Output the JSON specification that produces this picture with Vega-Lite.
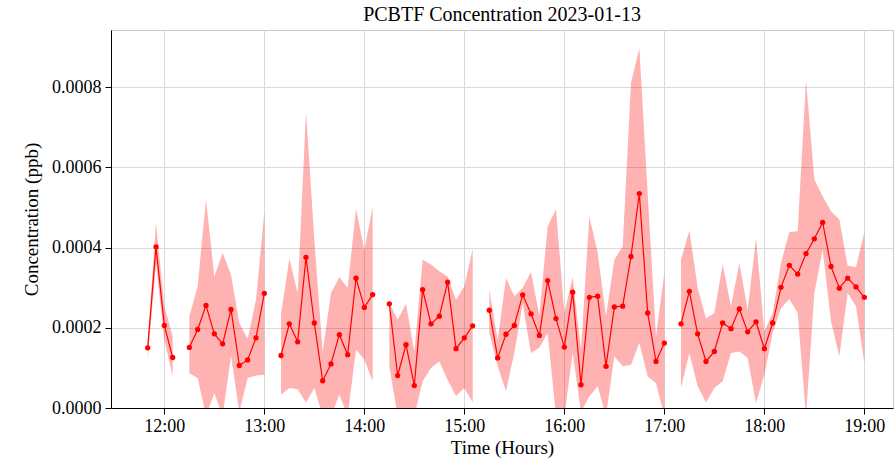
{
  "$schema": "https://vega.github.io/schema/vega-lite/v6.json",
  "width": 782,
  "height": 378,
  "autosize": {"type": "none"},
  "padding": {"left": 111, "top": 30, "right": 2, "bottom": 52},
  "background": "white",
  "title": {"text": "PCBTF Concentration 2023-01-13", "font": "Liberation Serif", "fontSize": 20, "fontWeight": "normal", "color": "black", "offset": 5, "anchor": "middle"},
  "config": {
    "view": {"stroke": "#c8c8c8", "strokeWidth": 1},
    "axis": {
      "labelFont": "Liberation Serif", "labelFontSize": 18, "labelColor": "black",
      "titleFont": "Liberation Serif", "titleFontSize": 19, "titleFontWeight": "normal", "titleColor": "black",
      "domainColor": "black", "tickColor": "black", "tickSize": 6, "gridColor": "#d9d9d9", "gridWidth": 1
    }
  },
  "data": {"values": [
    {"t": "2023-01-13T11:50:00", "c": 0.000150, "lo": 0.00012, "hi": 0.00016},
    {"t": "2023-01-13T11:55:00", "c": 0.000402, "lo": 0.00036, "hi": 0.000463},
    {"t": "2023-01-13T12:00:00", "c": 0.000206, "lo": 0.00017, "hi": 0.000254},
    {"t": "2023-01-13T12:05:00", "c": 0.000126, "lo": 0.000079, "hi": 0.000179},
    {"t": "2023-01-13T12:10:00", "c": null, "lo": null, "hi": null},
    {"t": "2023-01-13T12:15:00", "c": 0.000151, "lo": 0.000087, "hi": 0.000229},
    {"t": "2023-01-13T12:20:00", "c": 0.000196, "lo": 0.000075, "hi": 0.000304},
    {"t": "2023-01-13T12:25:00", "c": 0.000256, "lo": -0.00002, "hi": 0.00052},
    {"t": "2023-01-13T12:30:00", "c": 0.000185, "lo": 0.000037, "hi": 0.000328},
    {"t": "2023-01-13T12:35:00", "c": 0.00016, "lo": -0.00002, "hi": 0.000387},
    {"t": "2023-01-13T12:40:00", "c": 0.000246, "lo": 0.00013, "hi": 0.000333},
    {"t": "2023-01-13T12:45:00", "c": 0.000106, "lo": -0.00001, "hi": 0.000212},
    {"t": "2023-01-13T12:50:00", "c": 0.00012, "lo": 0.000075, "hi": 0.000172},
    {"t": "2023-01-13T12:55:00", "c": 0.000175, "lo": 0.000081, "hi": 0.00027},
    {"t": "2023-01-13T13:00:00", "c": 0.000286, "lo": 0.000083, "hi": 0.000489},
    {"t": "2023-01-13T13:05:00", "c": null, "lo": null, "hi": null},
    {"t": "2023-01-13T13:10:00", "c": 0.000131, "lo": 0.000033, "hi": 0.000233},
    {"t": "2023-01-13T13:15:00", "c": 0.00021, "lo": 0.00005, "hi": 0.000373},
    {"t": "2023-01-13T13:20:00", "c": 0.000165, "lo": 0.000047, "hi": 0.000287},
    {"t": "2023-01-13T13:25:00", "c": 0.000376, "lo": 0.000014, "hi": 0.00074},
    {"t": "2023-01-13T13:30:00", "c": 0.000212, "lo": 0.00005, "hi": 0.00042},
    {"t": "2023-01-13T13:35:00", "c": 0.000068, "lo": -0.00002, "hi": 0.00014},
    {"t": "2023-01-13T13:40:00", "c": 0.00011, "lo": -0.00002, "hi": 0.000287},
    {"t": "2023-01-13T13:45:00", "c": 0.000183, "lo": 0.000033, "hi": 0.000326},
    {"t": "2023-01-13T13:50:00", "c": 0.000133, "lo": -0.00002, "hi": 0.0003},
    {"t": "2023-01-13T13:55:00", "c": 0.000324, "lo": 0.000146, "hi": 0.000497},
    {"t": "2023-01-13T14:00:00", "c": 0.000251, "lo": 0.000121, "hi": 0.000395},
    {"t": "2023-01-13T14:05:00", "c": 0.000283, "lo": 0.000067, "hi": 0.000501},
    {"t": "2023-01-13T14:10:00", "c": null, "lo": null, "hi": null},
    {"t": "2023-01-13T14:15:00", "c": 0.00026, "lo": 0.000104, "hi": 0.000262},
    {"t": "2023-01-13T14:20:00", "c": 0.000081, "lo": -0.00002, "hi": 0.00022},
    {"t": "2023-01-13T14:25:00", "c": 0.000158, "lo": -0.00001, "hi": 0.00026},
    {"t": "2023-01-13T14:30:00", "c": 0.000056, "lo": -0.00002, "hi": 0.00014},
    {"t": "2023-01-13T14:35:00", "c": 0.000295, "lo": 0.000067, "hi": 0.00037},
    {"t": "2023-01-13T14:40:00", "c": 0.00021, "lo": 0.0001, "hi": 0.000358},
    {"t": "2023-01-13T14:45:00", "c": 0.000229, "lo": 0.000116, "hi": 0.000341},
    {"t": "2023-01-13T14:50:00", "c": 0.000314, "lo": 0.00007, "hi": 0.000328},
    {"t": "2023-01-13T14:55:00", "c": 0.000148, "lo": 0.00003, "hi": 0.00027},
    {"t": "2023-01-13T15:00:00", "c": 0.000175, "lo": 0.00005, "hi": 0.000304},
    {"t": "2023-01-13T15:05:00", "c": 0.000205, "lo": 0.000014, "hi": 0.000397},
    {"t": "2023-01-13T15:10:00", "c": null, "lo": null, "hi": null},
    {"t": "2023-01-13T15:15:00", "c": 0.000244, "lo": 0.000187, "hi": 0.000295},
    {"t": "2023-01-13T15:20:00", "c": 0.000125, "lo": 0.000104, "hi": 0.00017},
    {"t": "2023-01-13T15:25:00", "c": 0.000184, "lo": 0.000042, "hi": 0.000324},
    {"t": "2023-01-13T15:30:00", "c": 0.000206, "lo": 0.000137, "hi": 0.000279},
    {"t": "2023-01-13T15:35:00", "c": 0.000282, "lo": 0.00026, "hi": 0.0003},
    {"t": "2023-01-13T15:40:00", "c": 0.000235, "lo": 0.000137, "hi": 0.000339},
    {"t": "2023-01-13T15:45:00", "c": 0.000181, "lo": 0.00015, "hi": 0.00023},
    {"t": "2023-01-13T15:50:00", "c": 0.000318, "lo": 0.000187, "hi": 0.000453},
    {"t": "2023-01-13T15:55:00", "c": 0.000223, "lo": -0.00002, "hi": 0.000496},
    {"t": "2023-01-13T16:00:00", "c": 0.000152, "lo": -0.00002, "hi": 0.000237},
    {"t": "2023-01-13T16:05:00", "c": 0.000289, "lo": 0.000137, "hi": 0.000327},
    {"t": "2023-01-13T16:10:00", "c": 0.000058, "lo": -0.00001, "hi": 0.000146},
    {"t": "2023-01-13T16:15:00", "c": 0.000276, "lo": 0.000029, "hi": 0.000478},
    {"t": "2023-01-13T16:20:00", "c": 0.000279, "lo": 0.000054, "hi": 0.000387},
    {"t": "2023-01-13T16:25:00", "c": 0.000104, "lo": -0.00002, "hi": 0.000229},
    {"t": "2023-01-13T16:30:00", "c": 0.000252, "lo": 0.000129, "hi": 0.00037},
    {"t": "2023-01-13T16:35:00", "c": 0.000254, "lo": 0.000104, "hi": 0.000403},
    {"t": "2023-01-13T16:40:00", "c": 0.000378, "lo": 0.000108, "hi": 0.000811},
    {"t": "2023-01-13T16:45:00", "c": 0.000535, "lo": 0.000162, "hi": 0.000898},
    {"t": "2023-01-13T16:50:00", "c": 0.000237, "lo": 0.000079, "hi": 0.000536},
    {"t": "2023-01-13T16:55:00", "c": 0.000116, "lo": 0.000062, "hi": 0.000179},
    {"t": "2023-01-13T17:00:00", "c": 0.000162, "lo": -0.00002, "hi": 0.000337},
    {"t": "2023-01-13T17:05:00", "c": null, "lo": null, "hi": null},
    {"t": "2023-01-13T17:10:00", "c": 0.00021, "lo": 0.00005, "hi": 0.00037},
    {"t": "2023-01-13T17:15:00", "c": 0.000291, "lo": 0.000137, "hi": 0.000443},
    {"t": "2023-01-13T17:20:00", "c": 0.000185, "lo": 0.000054, "hi": 0.0003},
    {"t": "2023-01-13T17:25:00", "c": 0.000116, "lo": 0.000014, "hi": 0.000223},
    {"t": "2023-01-13T17:30:00", "c": 0.000141, "lo": 0.00005, "hi": 0.000237},
    {"t": "2023-01-13T17:35:00", "c": 0.000212, "lo": 0.000067, "hi": 0.000358},
    {"t": "2023-01-13T17:40:00", "c": 0.000198, "lo": 0.000137, "hi": 0.000254},
    {"t": "2023-01-13T17:45:00", "c": 0.000247, "lo": 0.000141, "hi": 0.000362},
    {"t": "2023-01-13T17:50:00", "c": 0.00019, "lo": 0.000125, "hi": 0.000245},
    {"t": "2023-01-13T17:55:00", "c": 0.000215, "lo": 0.000012, "hi": 0.000424},
    {"t": "2023-01-13T18:00:00", "c": 0.000148, "lo": 0.000083, "hi": 0.000191},
    {"t": "2023-01-13T18:05:00", "c": 0.000212, "lo": 0.000187, "hi": 0.000237},
    {"t": "2023-01-13T18:10:00", "c": 0.000301, "lo": 0.000249, "hi": 0.000362},
    {"t": "2023-01-13T18:15:00", "c": 0.000356, "lo": 0.000272, "hi": 0.000439},
    {"t": "2023-01-13T18:20:00", "c": 0.000334, "lo": 0.000237, "hi": 0.000441},
    {"t": "2023-01-13T18:25:00", "c": 0.000385, "lo": -0.00002, "hi": 0.000819},
    {"t": "2023-01-13T18:30:00", "c": 0.000422, "lo": 0.000287, "hi": 0.00057},
    {"t": "2023-01-13T18:35:00", "c": 0.000463, "lo": 0.000395, "hi": 0.000528},
    {"t": "2023-01-13T18:40:00", "c": 0.000353, "lo": 0.000216, "hi": 0.000491},
    {"t": "2023-01-13T18:45:00", "c": 0.000299, "lo": 0.000129, "hi": 0.00047},
    {"t": "2023-01-13T18:50:00", "c": 0.000324, "lo": 0.000287, "hi": 0.000355},
    {"t": "2023-01-13T18:55:00", "c": 0.000302, "lo": 0.000254, "hi": 0.000352},
    {"t": "2023-01-13T19:00:00", "c": 0.000276, "lo": 0.000112, "hi": 0.000437}
  ]},
  "encoding": {
    "x": {
      "field": "t", "type": "temporal",
      "scale": {"domain": [
        {"year": 2023, "month": 1, "date": 13, "hours": 11, "minutes": 28, "seconds": 0},
        {"year": 2023, "month": 1, "date": 13, "hours": 19, "minutes": 17, "seconds": 12}
      ]},
      "axis": {
        "title": "Time (Hours)", "format": "%H:%M", "labelPadding": 3, "titlePadding": 3,
        "values": [
          {"year": 2023, "month": 1, "date": 13, "hours": 12},
          {"year": 2023, "month": 1, "date": 13, "hours": 13},
          {"year": 2023, "month": 1, "date": 13, "hours": 14},
          {"year": 2023, "month": 1, "date": 13, "hours": 15},
          {"year": 2023, "month": 1, "date": 13, "hours": 16},
          {"year": 2023, "month": 1, "date": 13, "hours": 17},
          {"year": 2023, "month": 1, "date": 13, "hours": 18},
          {"year": 2023, "month": 1, "date": 13, "hours": 19}
        ]
      }
    }
  },
  "layer": [
    {
      "mark": {"type": "area", "color": "red", "opacity": 0.3, "clip": true},
      "encoding": {
        "y": {"field": "lo", "type": "quantitative",
          "scale": {"domain": [0, 0.000943], "nice": false, "zero": false},
          "axis": {"title": "Concentration (ppb)", "format": ".4f", "values": [0, 0.0002, 0.0004, 0.0006, 0.0008], "labelPadding": 4, "titlePadding": 10}},
        "y2": {"field": "hi"}
      }
    },
    {
      "mark": {"type": "line", "color": "red", "strokeWidth": 1.2, "clip": true, "point": {"filled": true, "size": 28, "color": "red"}},
      "encoding": {
        "y": {"field": "c", "type": "quantitative"}
      }
    }
  ]
}
